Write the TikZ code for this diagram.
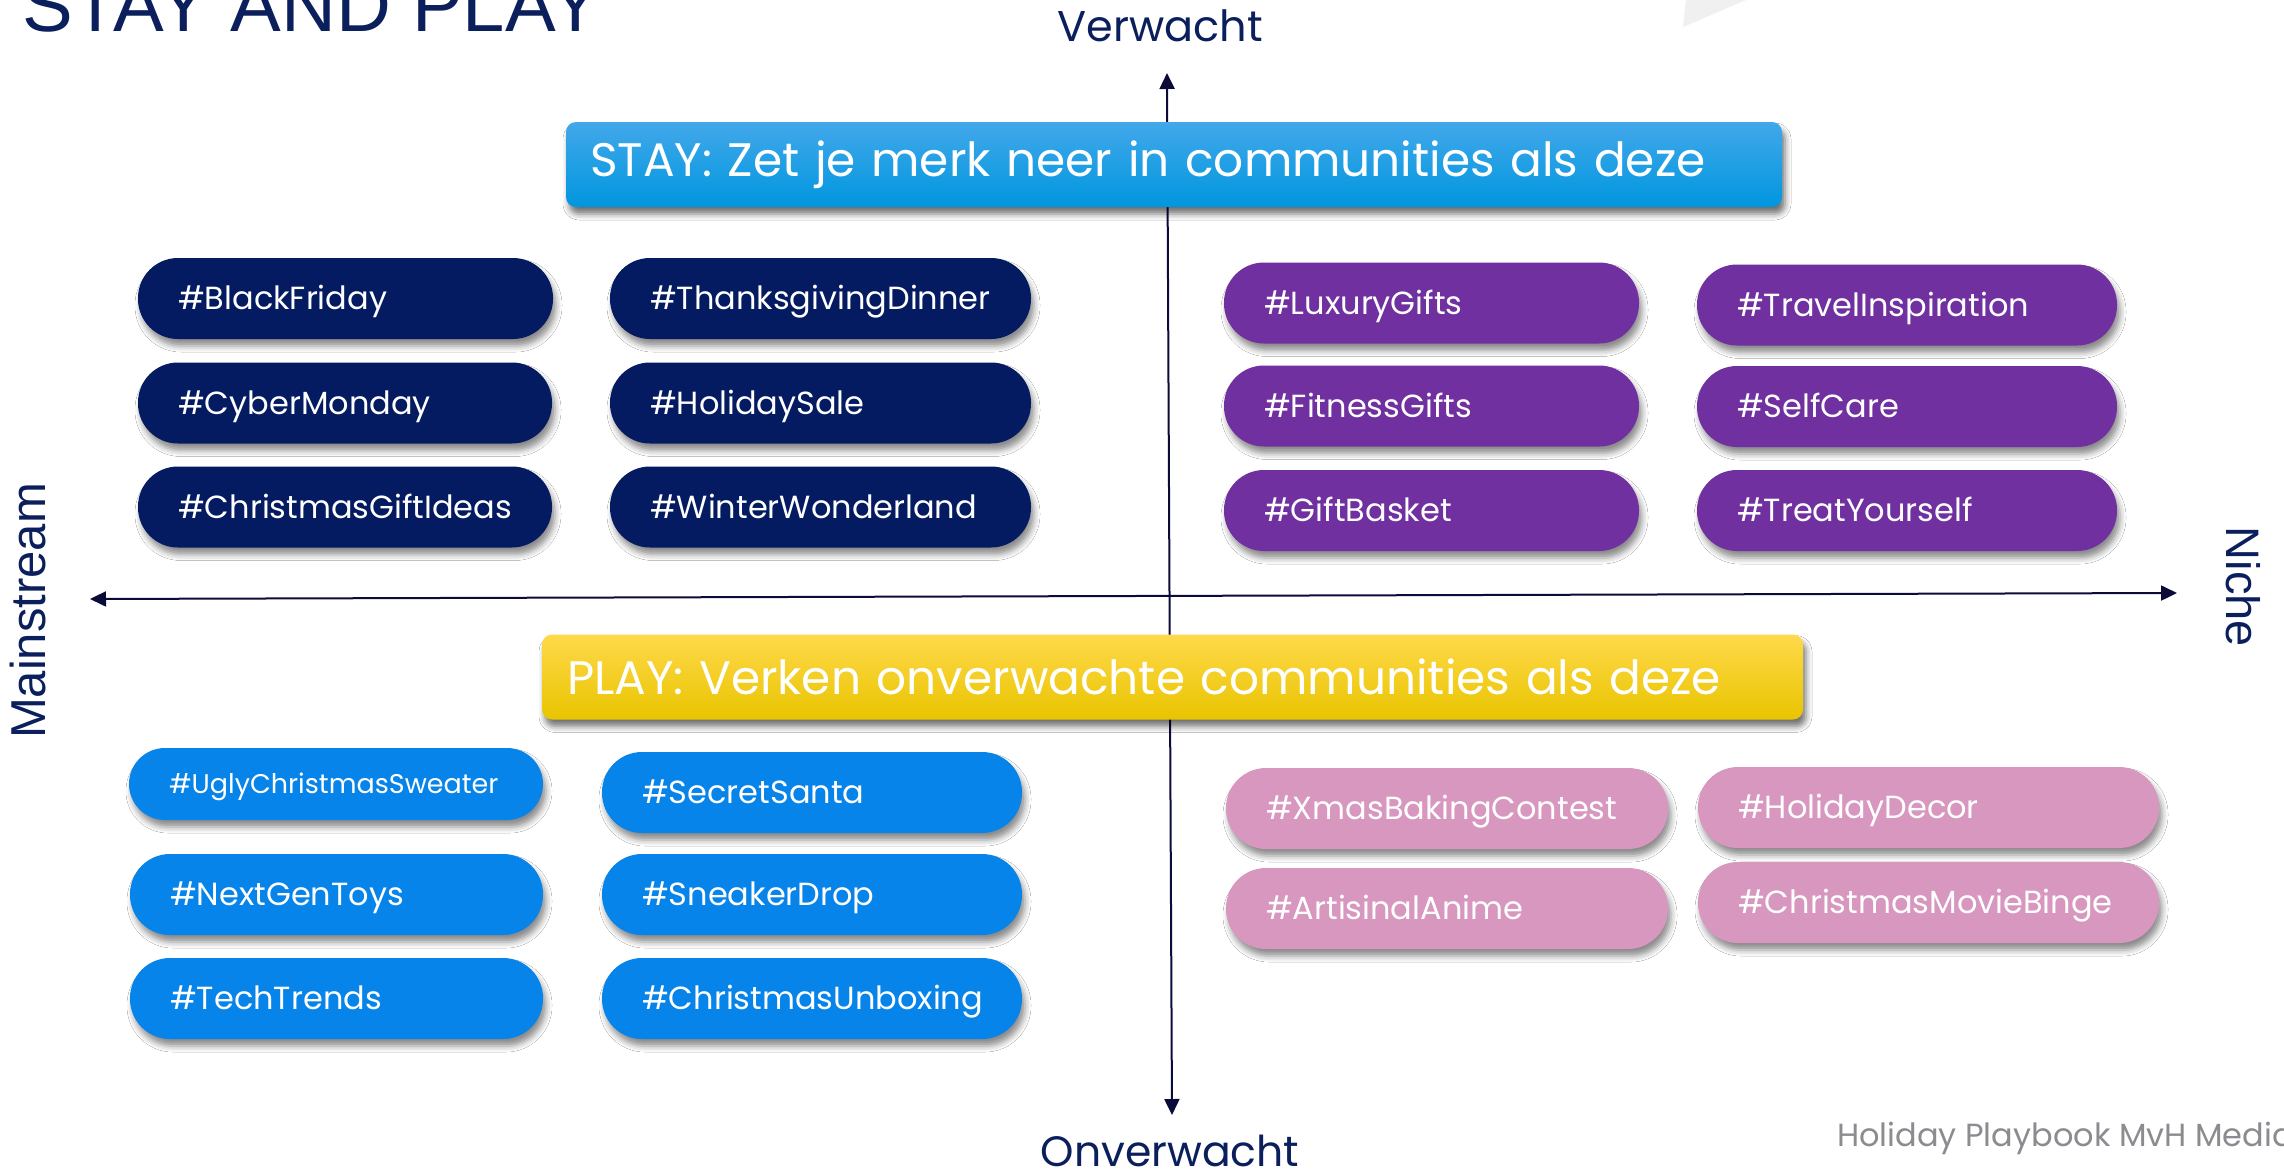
\documentclass[tikz,border=0pt]{standalone}
\usepackage{fontspec}
\usepackage{tikz}
\usetikzlibrary{arrows.meta, shadows.blur}
\newfontfamily\popfont{Poppins}
\newfontfamily\arialfont{Liberation Sans}
\definecolor{navypill}{HTML}{041B62}
\definecolor{purplepill}{HTML}{7030A0}
\definecolor{bluepill}{HTML}{0784EA}
\definecolor{pinkpill}{HTML}{D797BE}
\definecolor{axisnavy}{HTML}{0B0B3A}
\definecolor{labelnavy}{HTML}{0A1F5C}
\definecolor{footgray}{HTML}{8B8B90}
\definecolor{cornergray}{HTML}{F0F0F0}

\tikzset{
  pill/.style={rounded corners=40pt, minimum height=81pt, inner xsep=40pt, inner ysep=0pt,
    text height=23pt, text depth=1pt,
    align=left, text width=#1, text=white, font=\popfont\fontsize{32}{38}\selectfont,
    blur shadow={shadow xshift=3pt, shadow yshift=-7pt, shadow blur radius=6pt, shadow opacity=45}},
  navy/.style={fill=navypill},
  purple/.style={fill=purplepill},
  lightblue/.style={fill=bluepill},
  pink/.style={fill=pinkpill},
  header/.style={rounded corners=10pt, minimum height=85pt, inner ysep=0pt, align=left,
    text width=#1, text=white, font=\popfont\fontsize{47}{53}\selectfont,
    blur shadow={shadow xshift=3pt, shadow yshift=-7pt, shadow blur radius=6pt, shadow opacity=55}},
  axisline/.style={line width=2pt, draw=axisnavy,
    {Triangle[length=16pt,width=15pt]}-{Triangle[length=16pt,width=15pt]}},
  axislabel/.style={text=labelnavy, inner sep=0pt}
}

\begin{document}
\begin{tikzpicture}[x=1pt, y=-1pt]
	\clip (0,0) rectangle (2284,1172);
	\fill[white] (0,0) rectangle (2284,1172);
	\fill[cornergray] (1686,0) -- (1683,27) -- (1746,0) -- cycle;

	\draw (22,32) node[axislabel, anchor=base west, font=\arialfont\fontsize{76}{80}\selectfont] (title) {STAY AND PLAY}
	(1160,42) node[axislabel, anchor=base, font=\popfont\fontsize{43}{50}\selectfont] (verwacht) {Verwacht}
	(1170,1166) node[axislabel, anchor=base, font=\popfont\fontsize{42.5}{50}\selectfont] (onverwacht) {Onverwacht}
	(45,611) node[axislabel, anchor=base, rotate=90, font=\arialfont\fontsize{49}{55}\selectfont] (mainstream) {Mainstream}
	(2226,587) node[axislabel, anchor=base, rotate=-90, font=\arialfont\fontsize{47}{53}\selectfont] (niche) {Niche}
	(1837,1146) node[inner sep=0pt, anchor=base west, text=footgray, font=\popfont\fontsize{32}{38}\selectfont] (footer) {Holiday Playbook MvH Media};

	\coordinate (vtop) at (1167,73);
	\coordinate (vbot) at (1172,1115);
	\coordinate (hleft) at (90,599);
	\coordinate (hright) at (2177,593);
	\draw[axisline] (vtop) -- (vbot);
	\draw[axisline] (hleft) -- (hright);

	\draw (1174,164.5) node[header=1168pt, inner xsep=24pt, top color={rgb,255:red,66;green,168;blue,234}, bottom color={rgb,255:red,0;green,150;blue,223}] (stay) {STAY: Zet je merk neer in communities als deze}
	(1172.5,677) node[header=1211pt, inner xsep=25pt, top color={rgb,255:red,255;green,217;blue,74}, middle color={rgb,255:red,255;green,215;blue,0}, bottom color={rgb,255:red,232;green,196;blue,0}] (play) {PLAY: Verken onverwachte communities als deze};

	\draw (345.5,298.5) node[pill=335pt, navy] (blackfriday) {\#BlackFriday}
	(345,403) node[pill=334pt, navy] (cybermonday) {\#CyberMonday}
	(345,507) node[pill=334pt, navy] (giftideas) {\#ChristmasGiftIdeas}
	(820.5,298.5) node[pill=341pt, navy] (thanksgiving) {\#ThanksgivingDinner}
	(820.5,403) node[pill=341pt, navy] (holidaysale) {\#HolidaySale}
	(820.5,507) node[pill=341pt, navy] (wonderland) {\#WinterWonderland};

	\draw (1431.5,303) node[pill=335pt, purple] (luxury) {\#LuxuryGifts}
	(1431.5,406) node[pill=335pt, purple] (fitness) {\#FitnessGifts}
	(1431.5,510.5) node[pill=335pt, purple] (basket) {\#GiftBasket}
	(1907,305) node[pill=340pt, purple] (travel) {\#TravelInspiration}
	(1907,406.5) node[pill=340pt, purple] (selfcare) {\#SelfCare}
	(1907,510.5) node[pill=340pt, purple] (treat) {\#TreatYourself};

	\draw (336,784) node[pill=334pt, lightblue, minimum height=72pt, rounded corners=36pt, text height=20pt, font=\popfont\fontsize{27}{32}\selectfont] (sweater) {\#UglyChristmasSweater}
	(336.5,894.5) node[pill=333pt, lightblue] (nextgen) {\#NextGenToys}
	(336.5,998.5) node[pill=333pt, lightblue] (techtrends) {\#TechTrends}
	(812,792.5) node[pill=340pt, lightblue] (santa) {\#SecretSanta}
	(812,894.5) node[pill=340pt, lightblue] (sneaker) {\#SneakerDrop}
	(812,998.5) node[pill=340pt, lightblue] (unboxing) {\#ChristmasUnboxing};

	\draw (1447,808.5) node[pill=362pt, pink] (baking) {\#XmasBakingContest}
	(1447,908.5) node[pill=362pt, pink] (anime) {\#ArtisinalAnime}
	(1928.5,807.5) node[pill=381pt, pink] (decor) {\#HolidayDecor}
	(1928.5,902.5) node[pill=381pt, pink] (moviebinge) {\#ChristmasMovieBinge};
\end{tikzpicture}
\end{document}
